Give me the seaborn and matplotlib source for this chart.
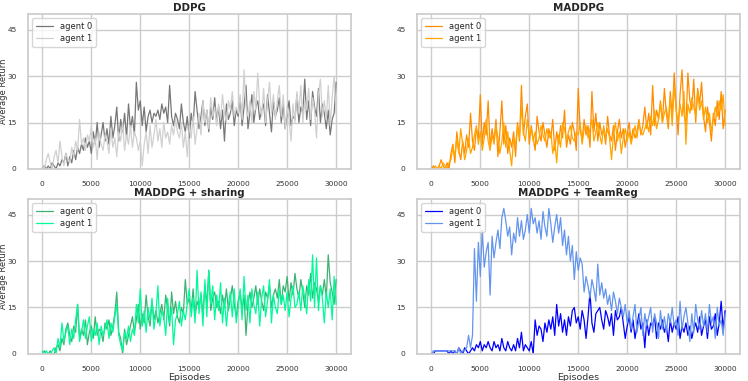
import numpy as np
import pandas as pd
import matplotlib
matplotlib.use("Agg")
import matplotlib.pyplot as plt
import seaborn as sns

# episodes, one point every 200
episodes = list(range(0, 30001, 200))

ddpg_a0 = [0, 1, 0, 1, 0, 2, 1, 0, 2, 1,
           3, 2, 5, 1, 4, 2, 6, 3, 7, 5,
           8, 6, 10, 7, 9, 5, 12, 8, 15, 7,
           11, 15, 9, 13, 8, 17, 10, 14, 20, 9,
           16, 12, 18, 10, 21, 13, 17, 11, 28, 19,
           22, 14, 20, 12, 17, 19, 15, 18, 17, 19,
           16, 21, 18, 20, 15, 27, 17, 14, 18, 16,
           13, 21, 15, 12, 17, 10, 18, 14, 25, 19,
           13, 17, 22, 14, 19, 12, 20, 16, 23, 15,
           20, 13, 19, 9, 21, 16, 18, 22, 14, 19,
           17, 23, 14, 20, 27, 13, 18, 24, 15, 20,
           22, 16, 19, 21, 14, 24, 18, 12, 22, 17,
           19, 23, 15, 21, 13, 18, 22, 14, 17, 16,
           24, 15, 20, 18, 29, 16, 22, 14, 25, 20,
           17, 26, 15, 21, 18, 13, 19, 11, 16, 18,
           28]
ddpg_a1 = [1, 0, 3, 5, 2, 0, 4, 6, 2, 9,
           4, 1, 5, 3, 2, 7, 4, 9, 6, 16,
           8, 10, 6, 11, 9, 14, 7, 10, 3, 12,
           8, 6, 11, 9, 5, 13, 7, 10, 4, 12,
           9, 15, 6, 11, 8, 14, 7, 12, 10, 6,
           9, 1, 8, 12, 5, 14, 7, 11, 16, 9,
           13, 7, 15, 10, 12, 8, 14, 11, 16, 12,
           10, 15, 7, 12, 4, 14, 10, 17, 8, 13,
           18, 11, 22, 15, 19, 13, 23, 17, 20, 14,
           21, 16, 24, 18, 15, 22, 19, 25, 17, 20,
           18, 24, 16, 32, 20, 17, 22, 15, 25, 19,
           31, 21, 17, 26, 15, 22, 28, 18, 24, 16,
           22, 27, 17, 24, 13, 20, 16, 9, 21, 15,
           25, 18, 27, 15, 22, 19, 26, 16, 23, 19,
           10, 24, 29, 17, 22, 16, 27, 14, 23, 30,
           18]

maddpg_a0 = [0, 1, 0, 0, 1, 3, 1, 0, 2, 0,
             5, 8, 2, 12, 6, 3, 9, 5, 11, 7,
             18, 9, 6, 13, 10, 24, 8, 15, 11, 22,
             7, 13, 9, 16, 4, 12, 22, 8, 14, 5,
             10, 7, 12, 4, 15, 9, 27, 11, 17, 21,
             8, 14, 10, 6, 17, 12, 9, 15, 11, 7,
             13, 10, 16, 6, 12, 8, 14, 10, 19, 7,
             11, 8, 15, 12, 6, 26, 13, 9, 16, 11,
             14, 7, 25, 12, 18, 9, 15, 11, 13, 8,
             17, 11, 9, 14, 6, 12, 16, 10, 13, 7,
             11, 15, 9, 13, 10, 12, 16, 11, 14, 20,
             13, 18, 11, 27, 14, 19, 16, 22, 15, 26,
             18, 13, 25, 17, 31, 20, 11, 24, 32, 18,
             14, 31, 22, 19, 29, 15, 26, 21, 28, 17,
             12, 20, 15, 9, 18, 14, 22, 16, 25, 13,
             19]
maddpg_a1 = [0, 0, 1, 0, 1, 0, 2, 1, 0, 2,
             3, 7, 4, 10, 5, 13, 8, 3, 6, 10,
             5, 7, 11, 14, 8, 12, 6, 10, 16, 9,
             6, 11, 8, 14, 10, 5, 9, 15, 7, 12,
             6, 1, 10, 8, 14, 10, 20, 12, 9, 16,
             11, 13, 9, 12, 8, 10, 14, 11, 9, 13,
             10, 12, 5, 9, 2, 11, 7, 15, 13, 9,
             12, 14, 10, 9, 12, 11, 15, 8, 13, 14,
             10, 13, 16, 9, 12, 15, 11, 8, 14, 10,
             13, 10, 3, 11, 15, 9, 12, 5, 10, 13,
             9, 12, 8, 11, 14, 10, 15, 12, 11, 13,
             15, 12, 17, 14, 19, 13, 16, 21, 15, 18,
             20, 15, 23, 14, 27, 19, 15, 21, 17, 25,
             8, 21, 18, 23, 20, 17, 25, 19, 22, 16,
             20, 15, 18, 12, 16, 20, 17, 22, 19, 24,
             14]

sharing_a0 = [0, 1, 0, 0, 1, 0, 0, 2, 3, 1,
              5, 3, 8, 10, 6, 4, 9, 7, 16, 5,
              8, 6, 11, 3, 7, 9, 5, 12, 6, 8,
              7, 4, 10, 8, 11, 6, 9, 13, 20, 7,
              5, 0, 8, 3, 6, 9, 12, 7, 11, 16,
              8, 13, 10, 19, 12, 9, 17, 11, 14, 10,
              13, 16, 11, 19, 14, 9, 20, 13, 17, 12,
              10, 15, 13, 24, 16, 18, 14, 21, 12, 17,
              15, 19, 13, 22, 16, 27, 14, 18, 20, 15,
              17, 13, 19, 15, 21, 14, 18, 22, 16, 12,
              17, 20, 14, 19, 6, 16, 20, 15, 18, 22,
              16, 21, 17, 14, 20, 18, 22, 15, 19, 21,
              18, 24, 16, 22, 20, 25, 17, 23, 19, 26,
              21, 18, 24, 20, 15, 22, 19, 26, 18, 23,
              21, 17, 22, 19, 24, 18, 32, 23, 20, 16,
              24]
sharing_a1 = [1, 0, 1, 0, 0, 1, 2, 0, 5, 2,
              10, 4, 7, 9, 3, 8, 5, 11, 16, 4,
              7, 11, 5, 9, 12, 4, 8, 6, 10, 3,
              9, 6, 8, 11, 5, 10, 7, 12, 16, 6,
              3, 1, 7, 5, 9, 4, 8, 6, 16, 10,
              21, 9, 14, 7, 15, 11, 18, 8, 13, 22,
              9, 14, 12, 6, 18, 10, 15, 3, 11, 13,
              17, 9, 14, 11, 16, 21, 12, 18, 10, 27,
              13, 20, 9, 24, 12, 27, 16, 22, 11, 19,
              14, 23, 10, 18, 9, 16, 20, 12, 21, 10,
              15, 21, 11, 25, 14, 19, 10, 21, 16, 13,
              20, 9, 18, 22, 12, 17, 24, 10, 19, 15,
              13, 21, 16, 19, 14, 20, 12, 18, 22, 15,
              16, 20, 14, 22, 18, 13, 24, 17, 32, 15,
              31, 14, 22, 18, 10, 20, 15, 21, 11, 25,
              16]

teamreg_a0 = [0, 0, 1, 1, 1, 1, 1, 1, 1, 0,
              1, 0, 1, 0, 2, 1, 0, 2, 1, 0,
              1, 2, 1, 3, 2, 4, 1, 3, 2, 4,
              2, 1, 4, 2, 3, 1, 5, 2, 1, 4,
              2, 1, 3, 1, 5, 2, 7, 1, 3, 2,
              1, 4, 0, 11, 6, 9, 8, 4, 10, 7,
              11, 8, 12, 6, 16, 9, 13, 7, 11, 6,
              12, 9, 14, 15, 10, 12, 8, 14, 11, 5,
              12, 20, 10, 7, 13, 14, 15, 11, 8, 14,
              12, 9, 13, 6, 14, 11, 12, 15, 10, 5,
              9, 12, 7, 11, 5, 9, 13, 8, 10, 2,
              11, 6, 10, 9, 12, 5, 10, 8, 11, 7,
              9, 4, 11, 7, 10, 8, 12, 5, 9, 7,
              10, 6, 9, 5, 8, 10, 7, 12, 6, 9,
              11, 5, 12, 8, 9, 13, 6, 10, 17, 8,
              14]
teamreg_a1 = [0, 1, 1, 1, 1, 1, 1, 1, 1, 1,
              1, 1, 1, 0, 2, 0, 1, 1, 2, 6,
              2, 6, 34, 17, 36, 25, 40, 28, 33, 36,
              19, 38, 31, 36, 40, 34, 44, 47, 43, 38,
              41, 32, 39, 36, 44, 38, 43, 37, 40, 45,
              39, 47, 42, 44, 39, 43, 37, 46, 41, 38,
              47, 42, 36, 41, 45, 39, 44, 35, 40, 32,
              38, 30, 35, 24, 33, 27, 31, 29, 20, 25,
              22, 18, 24, 21, 17, 29, 19, 23, 18, 21,
              16, 19, 14, 20, 17, 13, 18, 15, 12, 16,
              10, 14, 8, 12, 16, 7, 11, 15, 6, 13,
              9, 12, 15, 7, 13, 10, 5, 14, 8, 12,
              7, 13, 10, 15, 9, 11, 6, 17, 8, 12,
              15, 10, 4, 13, 7, 16, 11, 8, 14, 9,
              13, 7, 16, 10, 12, 5, 15, 9, 11, 6,
              13]

panels = [
    ("DDPG", ddpg_a0, ddpg_a1, ["#777777", "#d0d0d0"]),
    ("MADDPG", maddpg_a0, maddpg_a1, ["#ff8c00", "#ffa500"]),
    ("MADDPG + sharing", sharing_a0, sharing_a1, ["#3cb371", "#00fa9a"]),
    ("MADDPG + TeamReg", teamreg_a0, teamreg_a1, ["#0000ff", "#6495ed"]),
]

sns.set_theme(style="whitegrid")
fig, axes = plt.subplots(2, 2, figsize=(7.48, 3.81), dpi=100)
fig.subplots_adjust(left=0.037, right=0.989, top=0.963, bottom=0.071,
                    wspace=0.204, hspace=0.194)

for ax, (title, a0, a1, colors) in zip(axes.flat, panels):
    df = pd.DataFrame({
        "Episodes": episodes * 2,
        "Average Return": a0 + a1,
        "agent": ["agent 0"] * len(a0) + ["agent 1"] * len(a1),
    })
    sns.lineplot(data=df, x="Episodes", y="Average Return", hue="agent",
                 palette=colors, linewidth=0.9, ax=ax)
    ax.set_title(title, fontsize=7.4, fontweight="bold", pad=2)
    ax.set_xlim(-1500, 31500)
    ax.set_ylim(0, 50)
    ax.set_yticks([0, 15, 30, 45])
    ax.set_xticks(range(0, 30001, 5000))
    ax.tick_params(labelsize=5.4, colors="#333333")
    ax.tick_params(axis="x", pad=3)
    ax.tick_params(axis="y", pad=2)
    ax.legend(loc="upper left", fontsize=6, handlelength=2.1,
              borderpad=0.45, labelspacing=0.35)
    ax.set_xlabel("")
    ax.set_ylabel("")

for ax in axes[:, 0]:
    ax.set_ylabel("Average Return", fontsize=6.0, color="#333333")
    ax.yaxis.set_label_coords(-0.060, 0.5)
for ax in axes[1, :]:
    ax.set_xlabel("Episodes", fontsize=6.8, color="#333333")
    ax.xaxis.set_label_coords(0.5, -0.125)

fig.savefig("out.png", dpi=100)
